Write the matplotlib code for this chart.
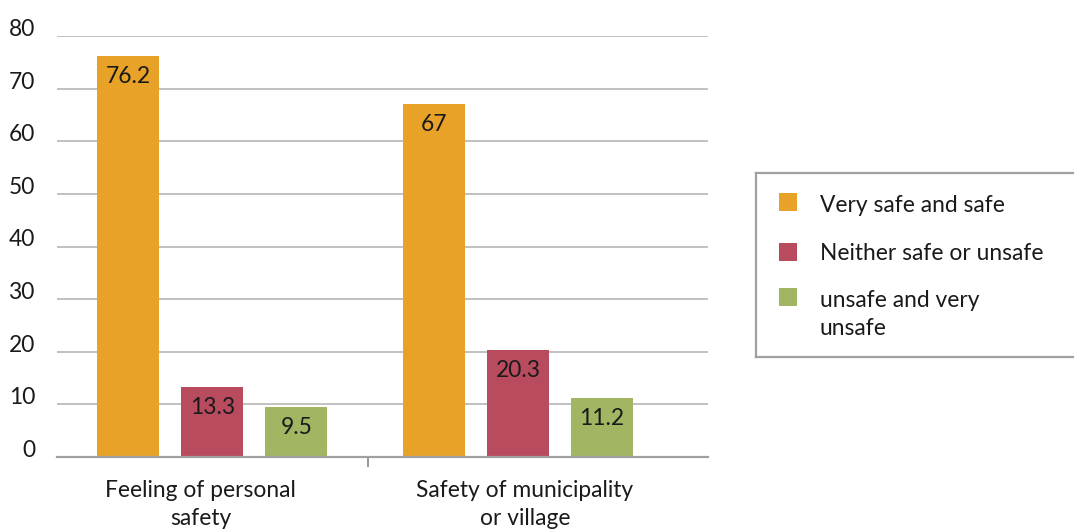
import matplotlib
matplotlib.use("Agg")
import matplotlib.pyplot as plt
import matplotlib.transforms as mtransforms
import numpy as np

# data
categories = ["Feeling of personal\nsafety", "Safety of municipality\nor village"]
series_names = ["Very safe and safe", "Neither safe or unsafe", "unsafe and very\nunsafe"]
very_safe = [76.2, 67]
neither = [13.3, 20.3]
unsafe = [9.5, 11.2]
value_labels = [["76.2", "67"], ["13.3", "20.3"], ["9.5", "11.2"]]
yticks = [0, 10, 20, 30, 40, 50, 60, 70, 80]

colors = ["#E8A228", "#B84B5D", "#A1B562"]
series = [very_safe, neither, unsafe]

plt.rcParams['font.family'] = ['Lato', 'DejaVu Sans']
FS = 16.4
TXT = "#1a1a1a"

fig = plt.figure(figsize=(10.74, 5.29), dpi=100)
ax = fig.add_axes([57 / 1074, 1 - 457 / 529, (708 - 57) / 1074, (457 - 36) / 529])

x = np.arange(len(categories))
offsets = [-0.275, 0.0, 0.275]
width = 0.203

for i, vals in enumerate(series):
    bars = ax.bar(x + offsets[i], vals, width, color=colors[i], zorder=3)
    for b, lab in zip(bars, value_labels[i]):
        ax.annotate(lab, (b.get_x() + b.get_width() / 2, b.get_height()),
                    xytext=(0, -19.5), textcoords="offset points",
                    ha="center", va="baseline", fontsize=FS, color=TXT, zorder=4)

ax.set_xlim(-0.508, 1.622)
ax.set_ylim(0, 80)
ax.set_yticks(yticks)
ax.set_yticklabels([str(t) for t in yticks], fontsize=FS, color=TXT)
for lab in ax.get_yticklabels():
    lab.set_va("baseline")
ax.tick_params(axis="y", length=0, pad=15.5)
ax.yaxis.grid(True, color="#B0B0B0", linewidth=1.1, zorder=0)
ax.set_axisbelow(True)

ax.set_xticks([0.508])
ax.set_xticklabels([""])
ax.tick_params(axis="x", length=7, width=1.3, color="#909090", direction="out")

for s in ["top", "right", "left"]:
    ax.spines[s].set_visible(False)
ax.spines["bottom"].set_color("#A0A0A0")
ax.spines["bottom"].set_linewidth(1.6)
ax.spines["bottom"].set_zorder(5)

# multi-line text: baseline alignment refers to the last line
trans = mtransforms.blended_transform_factory(ax.transData, ax.transAxes)
label_x = [-0.039, 1.023]
for xx, cat in zip(label_x, categories):
    ax.text(xx, -0.1615, cat, transform=trans, ha="center", va="baseline",
            fontsize=FS, color=TXT, linespacing=1.43)

# legend drawn in its own box
lax = fig.add_axes([755.7 / 1074, 1 - 357.3 / 529, 0.31, (357.3 - 172.7) / 529])
lax.set_xlim(0, 333)
lax.set_ylim(184.6, 0)
lax.set_xticks([])
lax.set_yticks([])
for s in lax.spines.values():
    s.set_color("#A0A0A0")
    s.set_linewidth(1.6)
marker_y = [29, 79, 124]
text_y = [39, 87.3, 162.3]
for i, name in enumerate(series_names):
    lax.scatter([32.3], [marker_y[i]], marker="s", s=175, color=colors[i], linewidths=0)
    lax.text(64, text_y[i], name, ha="left", va="baseline",
             fontsize=FS, color=TXT, linespacing=1.43)

fig.savefig("out.png", dpi=100)
